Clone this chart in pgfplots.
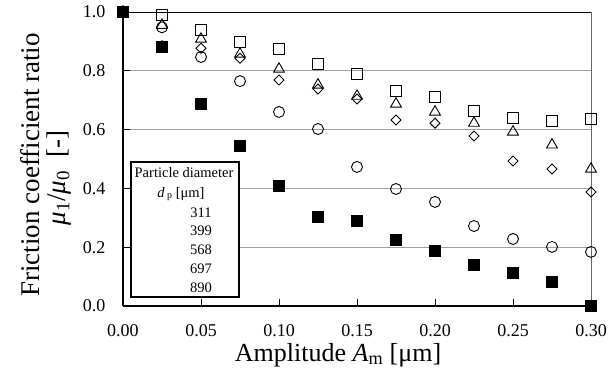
\documentclass[border=0pt]{standalone}
\usepackage{fontspec}
\setmainfont{Liberation Serif}
\usepackage{pgfplots}
\pgfplotsset{compat=1.18}
\pgfplotstableread{
x      fsq    cir    dia    tri    sq
0.000  1.000  1.000  1.000  1.000  1.000
0.025  0.880  0.948  0.885  0.955  0.990
0.050  0.687  0.847  0.877  0.908  0.939
0.075  0.544  0.765  0.843  0.857  0.898
0.100  0.408  0.660  0.769  0.806  0.874
0.125  0.303  0.602  0.738  0.752  0.823
0.150  0.289  0.473  0.704  0.714  0.789
0.175  0.224  0.398  0.633  0.687  0.731
0.200  0.187  0.354  0.622  0.660  0.711
0.225  0.139  0.272  0.578  0.622  0.663
0.250  0.112  0.228  0.493  0.592  0.639
0.275  0.082  0.201  0.466  0.548  0.629
0.300  0.000  0.184  0.388  0.466  0.636
}\data
\begin{document}
\begin{tikzpicture}
\begin{axis}[
  scale only axis, width=468pt, height=294pt,
  xmin=0, xmax=0.30, ymin=0, ymax=1.0,
  clip=false,
  xtick={0,0.05,0.10,0.15,0.20,0.25,0.30},
  ytick={0,0.2,0.4,0.6,0.8,1.0},
  xtick pos=bottom, ytick pos=left,
  tick align=inside, major tick length=7pt,
  tick style={black, line width=0.9pt},
  axis line style={draw=none},
  ymajorgrids, grid style={gray!75, line width=1pt},
  /pgf/number format/assume math mode=true,
  ticklabel style={font=\fontsize{18}{20}\selectfont},
  xticklabel style={yshift=-15pt, /pgf/number format/.cd, fixed, fixed zerofill, precision=2},
  yticklabel style={xshift=-14pt, /pgf/number format/.cd, fixed, fixed zerofill, precision=1},
  xlabel={Amplitude \textit{A}\textsubscript{m} [μm]},
  xlabel style={font=\fontsize{26}{28}\selectfont, at={(axis description cs:0.5,0)}, anchor=base, inner sep=0pt, xshift=-19pt, yshift=-55pt},
  every axis plot/.append style={only marks, line width=0.9pt, black},
]
\coordinate (TL) at (rel axis cs:0,1);
\coordinate (O) at (rel axis cs:0,0);
\draw[line width=1.5pt] (rel axis cs:0,0) -- (rel axis cs:0,1);
\draw[line width=0.9pt] (rel axis cs:0,1) -- (rel axis cs:1,1);
\draw[gray!80!black, line width=1pt] (rel axis cs:1,0) -- (rel axis cs:1,1);
\draw[line width=2.4pt] (rel axis cs:0,0) -- (rel axis cs:1,0);
\addplot[mark=diamond, mark size=5pt, mark options={fill=white, xscale=1.33}] table[x=x, y=dia] {\data};
\addplot[mark=o, mark size=5.5pt] table[x=x, y=cir] {\data};
\addplot[mark=triangle, mark size=6.3pt] table[x=x, y=tri] {\data};
\addplot[mark=square, mark size=5.5pt] table[x=x, y=sq] {\data};
\addplot[mark=square*, mark size=5.5pt, mark options={fill=black}] table[x=x, y=fsq] {\data};
\end{axis}
% y label (two lines)
\node[rotate=90, font=\fontsize{27}{29}\selectfont] at ([shift={(-93pt,-153pt)}]TL) {Friction coefficient ratio};
\node[rotate=90, font=\fontsize{27}{29}\selectfont] at ([shift={(-64pt,-166pt)}]TL) {\textit{μ}\textsubscript{1}/\textit{μ}\textsubscript{0}\ \ [-]};
% legend box
\draw[line width=2pt, fill=white] ([shift={(8pt,-150pt)}]TL) rectangle ([shift={(116pt,-285pt)}]TL);
\begin{scope}[every node/.style={font=\fontsize{14.5}{16}\selectfont, inner sep=0pt}]
\node at ([shift={(61pt,-161pt)}]TL) {Particle diameter};
\node at ([shift={(58pt,-182pt)}]TL) {\textit{d}\,\raisebox{-0.2ex}{\fontsize{10}{11}\selectfont p} [μm]};
\node at ([shift={(78pt,-201pt)}]TL) {311};
\node at ([shift={(78pt,-219pt)}]TL) {399};
\node at ([shift={(78pt,-238pt)}]TL) {568};
\node at ([shift={(78pt,-257pt)}]TL) {697};
\node at ([shift={(78pt,-276pt)}]TL) {890};
\end{scope}
\pgfresetboundingbox
\path ([shift={(-123pt,12pt)}]TL) rectangle ++(610pt,-373pt);
\end{tikzpicture}
\end{document}
